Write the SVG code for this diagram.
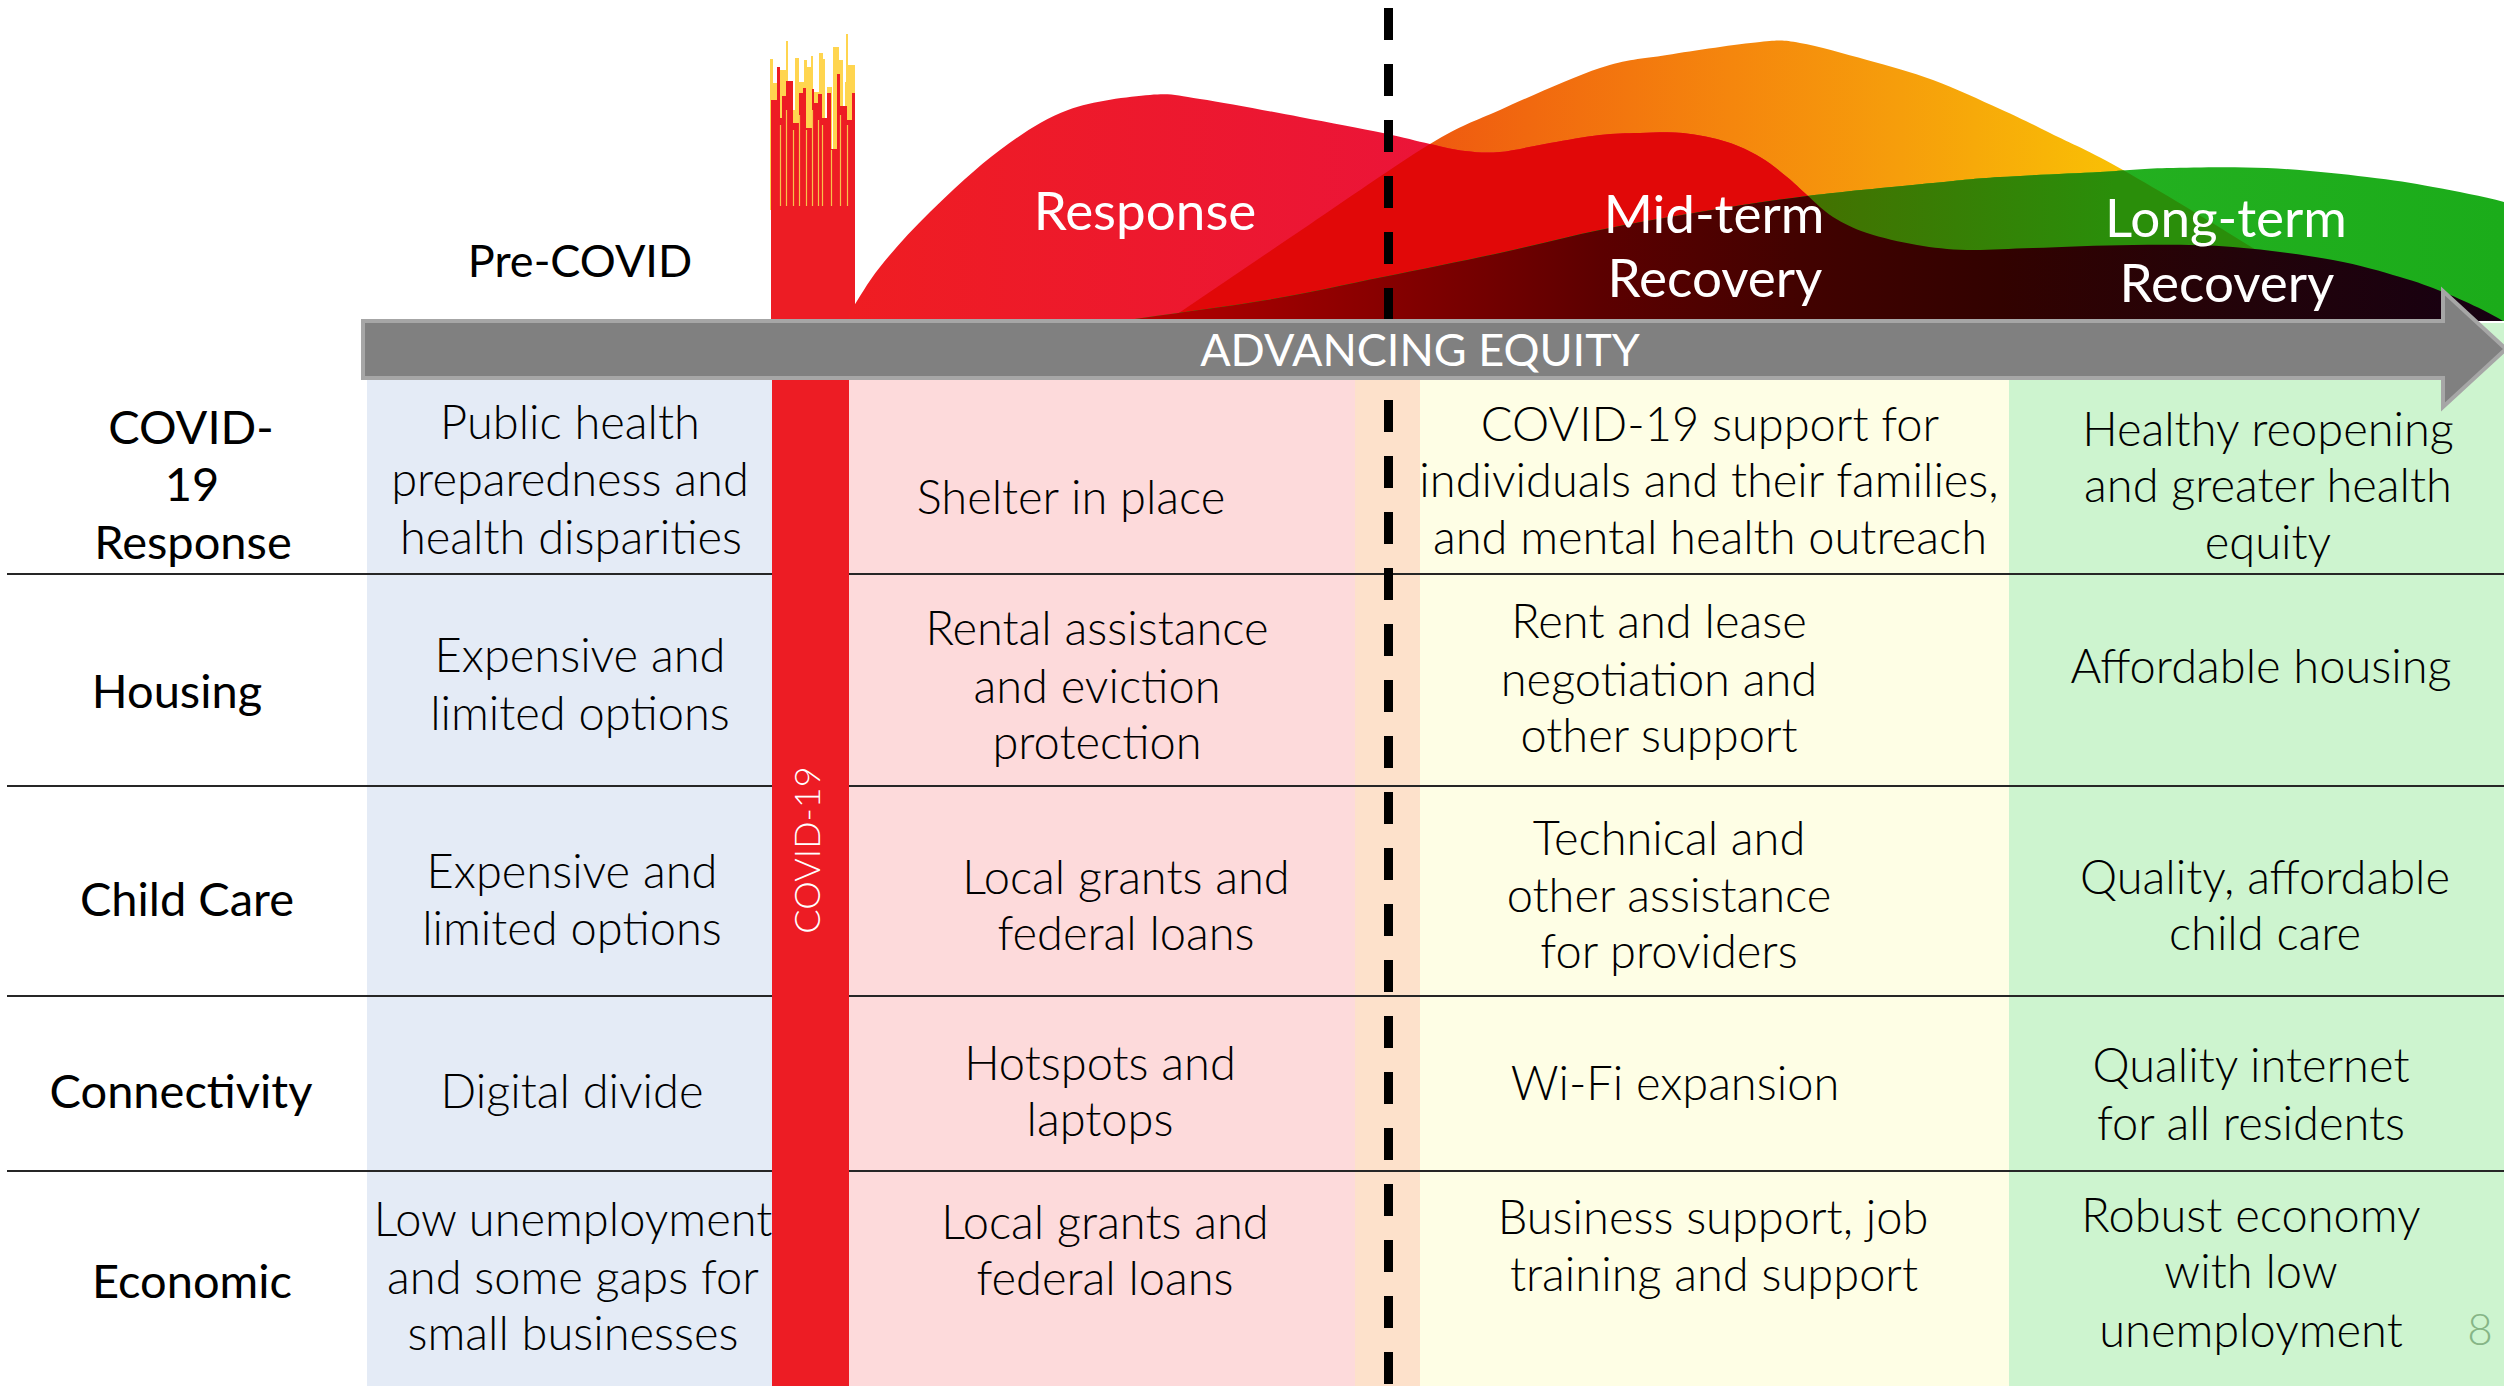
<svg xmlns="http://www.w3.org/2000/svg" width="2504" height="1386" viewBox="0 0 2504 1386">
<defs>
<style>
.lbl{font-family:Lato,"Liberation Sans",sans-serif;font-size:47px;fill:#000;text-anchor:middle}
.cell{font-family:Lato,"Liberation Sans",sans-serif;font-weight:300;font-size:47px;fill:#000;text-anchor:middle}
.hdr{font-family:Lato,"Liberation Sans",sans-serif;font-size:53px;fill:#fff;text-anchor:middle}
.row{stroke:#262626;stroke-width:2}
.y rect{fill:#FFD54F}
.r rect{fill:#ED1C24}
.thin line{stroke:#F9C04A;stroke-width:1.2}
</style>
<linearGradient id="gA" gradientUnits="userSpaceOnUse" x1="850" y1="0" x2="1450" y2="0">
<stop offset="0" stop-color="#EF1D22"/><stop offset="1" stop-color="#EB1439"/>
</linearGradient>
<linearGradient id="gB" gradientUnits="userSpaceOnUse" x1="1160" y1="0" x2="2370" y2="0">
<stop offset="0" stop-color="#EE4A12"/><stop offset="0.223" stop-color="#EF5A10"/><stop offset="0.471" stop-color="#F5860D"/><stop offset="0.612" stop-color="#F69E0B"/><stop offset="0.793" stop-color="#F9C005"/><stop offset="1" stop-color="#F9C005"/>
</linearGradient>
<linearGradient id="gO" gradientUnits="userSpaceOnUse" x1="1800" y1="0" x2="2370" y2="0">
<stop offset="0" stop-color="#447000"/><stop offset="0.55" stop-color="#2A8E0A"/><stop offset="1" stop-color="#2A8E0A"/>
</linearGradient>
<linearGradient id="gG" gradientUnits="userSpaceOnUse" x1="2100" y1="0" x2="2504" y2="0">
<stop offset="0" stop-color="#24B020"/><stop offset="1" stop-color="#1BAC1A"/>
</linearGradient>
<linearGradient id="gD" gradientUnits="userSpaceOnUse" x1="1120" y1="0" x2="2504" y2="0">
<stop offset="0" stop-color="#B80000"/><stop offset="0.19" stop-color="#870000"/><stop offset="0.347" stop-color="#5C0000"/><stop offset="0.491" stop-color="#420200"/><stop offset="0.636" stop-color="#320200"/><stop offset="0.817" stop-color="#22030A"/><stop offset="1" stop-color="#160012"/>
</linearGradient>
<clipPath id="top"><rect x="0" y="0" width="2504" height="321"/></clipPath>
<clipPath id="cB"><path d="M1167,321 C1211.3,291 1256.2,260.5 1300,231 C1343.8,201.5 1396.7,164.2 1430,144 C1463.3,123.8 1471.7,122.7 1500,110 C1528.3,97.3 1572.2,77.2 1600,68 C1627.8,58.8 1640.3,59.3 1667,55 C1693.7,50.7 1737.8,44 1760,42 C1782.2,40 1782.2,40 1800,43 C1817.8,46 1844.8,53.8 1867,60 C1889.2,66.2 1910.8,71.8 1933,80 C1955.2,88.2 1980.5,100.2 2000,109 C2019.5,117.8 2029.5,122.8 2050,133 C2070.5,143.2 2089.2,150.8 2123,170 C2156.8,189.2 2215.2,224.3 2253,248 C2290.8,271.7 2331.3,299.8 2350,312 C2368.7,324.2 2360,318 2365,321 L2365,330 L1167,330 Z"/></clipPath>
<clipPath id="cA"><path d="M848,321 L850,312 C860,297 866.7,283.7 880,267 C893.3,250.3 910,231.5 930,212 C950,192.5 977,167 1000,150 C1023,133 1043,119.2 1068,110 C1093,100.8 1128,96.8 1150,95 C1172,93.2 1175,95.3 1200,99 C1225,102.7 1269.5,111.3 1300,117 C1330.5,122.7 1361.3,128.5 1383,133 C1404.7,137.5 1416.3,141 1430,144 C1443.7,147 1453.3,149.7 1465,151 C1476.7,152.3 1485.8,153.3 1500,152 C1514.2,150.7 1533.3,145.8 1550,143 C1566.7,140.2 1585,136.7 1600,135 C1615,133.3 1626.2,133.3 1640,133 C1653.8,132.7 1668.5,131.5 1683,133 C1697.5,134.5 1714.2,138 1727,142 C1739.8,146 1750,151.2 1760,157 C1770,162.8 1779.2,170.7 1787,177 C1794.8,183.3 1799.3,188.3 1807,195 C1814.7,201.7 1823,210.7 1833,217 C1843,223.3 1853,228.3 1867,233 C1881,237.7 1900.3,242.2 1917,245 C1933.7,247.8 1947.7,249.5 1967,250 C1986.3,250.5 2005.3,248.8 2033,248 C2060.7,247.2 2099.7,245.2 2133,245 C2166.3,244.8 2199.7,244.5 2233,247 C2266.3,249.5 2305.2,255 2333,260 C2360.8,265 2381.7,271.7 2400,277 C2418.3,282.3 2429.2,286.5 2443,292 C2456.8,297.5 2471.8,304.5 2483,310 C2494.2,315.5 2501,320 2510,325 L2510,330 L848,330 Z"/></clipPath>
</defs>

<rect x="0" y="0" width="2504" height="1386" fill="#fff"/>

<g id="column-backgrounds">
<rect x="367" y="323" width="405" height="1063" fill="#E4EBF6"/>
<rect x="849" y="323" width="506" height="1063" fill="#FDDADB"/>
<rect x="1355" y="323" width="65" height="1063" fill="#FDE1CB"/>
<rect x="1420" y="323" width="589" height="1063" fill="#FEFEE5"/>
<rect x="2009" y="323" width="495" height="1063" fill="#CDF4CF"/>
</g>

<g id="row-lines">
<line class="row" x1="7" y1="574" x2="2504" y2="574"/>
<line class="row" x1="7" y1="786" x2="2504" y2="786"/>
<line class="row" x1="7" y1="996" x2="2504" y2="996"/>
<line class="row" x1="7" y1="1171" x2="2504" y2="1171"/>
</g>

<g id="covid-bar">
<g class="y">
<rect x="770" y="59" width="3" height="151"/><rect x="773" y="83" width="4" height="127"/><rect x="779" y="70" width="7" height="140"/><rect x="786" y="41" width="2" height="169"/><rect x="793" y="110" width="3" height="100"/><rect x="795" y="58" width="4" height="152"/><rect x="798" y="82" width="6" height="128"/><rect x="804" y="60" width="3" height="150"/><rect x="807" y="67" width="5" height="143"/><rect x="811" y="56" width="2" height="154"/><rect x="813" y="92" width="6" height="118"/><rect x="819" y="53" width="4" height="157"/><rect x="823" y="59" width="2" height="151"/><rect x="827" y="87" width="5" height="123"/><rect x="833" y="47" width="6" height="163"/><rect x="839" y="60" width="4" height="150"/><rect x="846" y="34" width="2" height="176"/><rect x="845" y="82" width="2" height="128"/><rect x="848" y="65" width="7" height="145"/>
</g>
<g class="r">
<rect x="771" y="100" width="6" height="110"/><rect x="777" y="67" width="3" height="143"/><rect x="780" y="118" width="2" height="92"/><rect x="782" y="96" width="4" height="114"/><rect x="786" y="81" width="7" height="129"/><rect x="793" y="123" width="6" height="87"/><rect x="799" y="93" width="4" height="117"/><rect x="803" y="88" width="3" height="122"/><rect x="806" y="128" width="6" height="82"/><rect x="812" y="89" width="2" height="121"/><rect x="814" y="103" width="4" height="107"/><rect x="818" y="94" width="4" height="116"/><rect x="822" y="118" width="5" height="92"/><rect x="827" y="93" width="4" height="117"/><rect x="831" y="149" width="6" height="61"/><rect x="837" y="74" width="3" height="136"/><rect x="840" y="106" width="7" height="104"/><rect x="847" y="120" width="5" height="90"/><rect x="852" y="93" width="3" height="117"/>
<rect x="771" y="206" width="84" height="118"/>
<rect x="772" y="320" width="77" height="1066"/>
</g>
<g class="thin">
<line x1="780.5" y1="125" x2="780.5" y2="206"/><line x1="786.5" y1="110" x2="786.5" y2="206"/><line x1="793.5" y1="130" x2="793.5" y2="206"/><line x1="799.5" y1="115" x2="799.5" y2="206"/><line x1="806.5" y1="130" x2="806.5" y2="206"/><line x1="812.5" y1="110" x2="812.5" y2="206"/><line x1="818.5" y1="120" x2="818.5" y2="206"/><line x1="822.5" y1="125" x2="822.5" y2="206"/><line x1="831.5" y1="150" x2="831.5" y2="206"/><line x1="840.5" y1="115" x2="840.5" y2="206"/><line x1="847.5" y1="125" x2="847.5" y2="206"/>
</g>
</g>

<g id="phase-curves" clip-path="url(#top)">
<path id="orange-wave" fill="url(#gB)" d="M1167,321 C1211.3,291 1256.2,260.5 1300,231 C1343.8,201.5 1396.7,164.2 1430,144 C1463.3,123.8 1471.7,122.7 1500,110 C1528.3,97.3 1572.2,77.2 1600,68 C1627.8,58.8 1640.3,59.3 1667,55 C1693.7,50.7 1737.8,44 1760,42 C1782.2,40 1782.2,40 1800,43 C1817.8,46 1844.8,53.8 1867,60 C1889.2,66.2 1910.8,71.8 1933,80 C1955.2,88.2 1980.5,100.2 2000,109 C2019.5,117.8 2029.5,122.8 2050,133 C2070.5,143.2 2089.2,150.8 2123,170 C2156.8,189.2 2215.2,224.3 2253,248 C2290.8,271.7 2331.3,299.8 2350,312 C2368.7,324.2 2360,318 2365,321 L2365,330 L1167,330 Z"/>
<path id="red-wave" fill="url(#gA)" d="M848,321 L850,312 C860,297 866.7,283.7 880,267 C893.3,250.3 910,231.5 930,212 C950,192.5 977,167 1000,150 C1023,133 1043,119.2 1068,110 C1093,100.8 1128,96.8 1150,95 C1172,93.2 1175,95.3 1200,99 C1225,102.7 1269.5,111.3 1300,117 C1330.5,122.7 1361.3,128.5 1383,133 C1404.7,137.5 1416.3,141 1430,144 C1443.7,147 1453.3,149.7 1465,151 C1476.7,152.3 1485.8,153.3 1500,152 C1514.2,150.7 1533.3,145.8 1550,143 C1566.7,140.2 1585,136.7 1600,135 C1615,133.3 1626.2,133.3 1640,133 C1653.8,132.7 1668.5,131.5 1683,133 C1697.5,134.5 1714.2,138 1727,142 C1739.8,146 1750,151.2 1760,157 C1770,162.8 1779.2,170.7 1787,177 C1794.8,183.3 1799.3,188.3 1807,195 C1814.7,201.7 1823,210.7 1833,217 C1843,223.3 1853,228.3 1867,233 C1881,237.7 1900.3,242.2 1917,245 C1933.7,247.8 1947.7,249.5 1967,250 C1986.3,250.5 2005.3,248.8 2033,248 C2060.7,247.2 2099.7,245.2 2133,245 C2166.3,244.8 2199.7,244.5 2233,247 C2266.3,249.5 2305.2,255 2333,260 C2360.8,265 2381.7,271.7 2400,277 C2418.3,282.3 2429.2,286.5 2443,292 C2456.8,297.5 2471.8,304.5 2483,310 C2494.2,315.5 2501,320 2510,325 L2510,330 L848,330 Z"/>
<path fill="#E10808" clip-path="url(#cB)" d="M848,321 L850,312 C860,297 866.7,283.7 880,267 C893.3,250.3 910,231.5 930,212 C950,192.5 977,167 1000,150 C1023,133 1043,119.2 1068,110 C1093,100.8 1128,96.8 1150,95 C1172,93.2 1175,95.3 1200,99 C1225,102.7 1269.5,111.3 1300,117 C1330.5,122.7 1361.3,128.5 1383,133 C1404.7,137.5 1416.3,141 1430,144 C1443.7,147 1453.3,149.7 1465,151 C1476.7,152.3 1485.8,153.3 1500,152 C1514.2,150.7 1533.3,145.8 1550,143 C1566.7,140.2 1585,136.7 1600,135 C1615,133.3 1626.2,133.3 1640,133 C1653.8,132.7 1668.5,131.5 1683,133 C1697.5,134.5 1714.2,138 1727,142 C1739.8,146 1750,151.2 1760,157 C1770,162.8 1779.2,170.7 1787,177 C1794.8,183.3 1799.3,188.3 1807,195 C1814.7,201.7 1823,210.7 1833,217 C1843,223.3 1853,228.3 1867,233 C1881,237.7 1900.3,242.2 1917,245 C1933.7,247.8 1947.7,249.5 1967,250 C1986.3,250.5 2005.3,248.8 2033,248 C2060.7,247.2 2099.7,245.2 2133,245 C2166.3,244.8 2199.7,244.5 2233,247 C2266.3,249.5 2305.2,255 2333,260 C2360.8,265 2381.7,271.7 2400,277 C2418.3,282.3 2429.2,286.5 2443,292 C2456.8,297.5 2471.8,304.5 2483,310 C2494.2,315.5 2501,320 2510,325 L2510,330 L848,330 Z"/>
<path id="green-wave" fill="url(#gG)" d="M1120,321 C1169,314 1223.2,307.3 1267,300 C1310.8,292.7 1344.2,284.8 1383,277 C1421.8,269.2 1463.8,260.8 1500,253 C1536.2,245.2 1566.7,236.8 1600,230 C1633.3,223.2 1665.5,217.7 1700,212 C1734.5,206.3 1768.2,200.8 1807,196 C1845.8,191.2 1900.8,186.2 1933,183 C1965.2,179.8 1972.2,178.8 2000,177 C2027.8,175.2 2072.2,173.5 2100,172 C2127.8,170.5 2139.2,168.7 2167,168 C2194.8,167.3 2233.7,166.5 2267,168 C2300.3,169.5 2339.3,173.8 2367,177 C2394.7,180.2 2410.2,182.8 2433,187 C2455.8,191.2 2482.8,196.2 2504,202 C2525.2,207.8 2541.3,215.3 2560,222 L2560,330 L1120,330 Z"/>
<path fill="url(#gO)" clip-path="url(#cB)" d="M1120,321 C1169,314 1223.2,307.3 1267,300 C1310.8,292.7 1344.2,284.8 1383,277 C1421.8,269.2 1463.8,260.8 1500,253 C1536.2,245.2 1566.7,236.8 1600,230 C1633.3,223.2 1665.5,217.7 1700,212 C1734.5,206.3 1768.2,200.8 1807,196 C1845.8,191.2 1900.8,186.2 1933,183 C1965.2,179.8 1972.2,178.8 2000,177 C2027.8,175.2 2072.2,173.5 2100,172 C2127.8,170.5 2139.2,168.7 2167,168 C2194.8,167.3 2233.7,166.5 2267,168 C2300.3,169.5 2339.3,173.8 2367,177 C2394.7,180.2 2410.2,182.8 2433,187 C2455.8,191.2 2482.8,196.2 2504,202 C2525.2,207.8 2541.3,215.3 2560,222 L2560,330 L1120,330 Z"/>
<path fill="url(#gD)" clip-path="url(#cA)" d="M1120,321 C1169,314 1223.2,307.3 1267,300 C1310.8,292.7 1344.2,284.8 1383,277 C1421.8,269.2 1463.8,260.8 1500,253 C1536.2,245.2 1566.7,236.8 1600,230 C1633.3,223.2 1665.5,217.7 1700,212 C1734.5,206.3 1768.2,200.8 1807,196 C1845.8,191.2 1900.8,186.2 1933,183 C1965.2,179.8 1972.2,178.8 2000,177 C2027.8,175.2 2072.2,173.5 2100,172 C2127.8,170.5 2139.2,168.7 2167,168 C2194.8,167.3 2233.7,166.5 2267,168 C2300.3,169.5 2339.3,173.8 2367,177 C2394.7,180.2 2410.2,182.8 2433,187 C2455.8,191.2 2482.8,196.2 2504,202 C2525.2,207.8 2541.3,215.3 2560,222 L2560,330 L1120,330 Z"/>
</g>

<g id="divider">
<line x1="1388.5" y1="8" x2="1388.5" y2="1386" stroke="#000" stroke-width="9" stroke-dasharray="32 24"/>
</g>

<g id="advancing-equity-arrow">
<polygon points="363,321 2443,321 2443,291 2506,349 2443,407 2443,378 363,378" fill="#808080" stroke="#A6A6A6" stroke-width="4"/>
<text x="1420" y="366" font-family="Lato, 'Liberation Sans', sans-serif" font-size="45" fill="#fff" text-anchor="middle">ADVANCING EQUITY</text>
</g>

<g id="phase-labels">
<text x="580" y="277" font-family="Lato, 'Liberation Sans', sans-serif" font-size="45" fill="#000" text-anchor="middle">Pre-COVID</text>
<text class="hdr" x="1145" y="230">Response</text>
<text class="hdr" x="1714" y="233">Mid-term</text>
<text class="hdr" x="1715" y="297">Recovery</text>
<text class="hdr" x="2226" y="237">Long-term</text>
<text class="hdr" x="2227" y="302">Recovery</text>
<text x="820" y="850" transform="rotate(-90 820 850)" font-family="Lato, 'Liberation Sans', sans-serif" font-weight="300" font-size="36" fill="#fff" text-anchor="middle">COVID-19</text>
</g>

<g id="row-covid-response">
<text class="lbl" x="191" y="444">COVID-</text>
<text class="lbl" x="192" y="501">19</text>
<text class="lbl" x="193" y="559">Response</text>
<text class="cell" x="570" y="439">Public health</text>
<text class="cell" x="570" y="496">preparedness and</text>
<text class="cell" x="571" y="554">health disparities</text>
<text class="cell" x="1071" y="514">Shelter in place</text>
<text class="cell" x="1710" y="441">COVID-19 support for</text>
<text class="cell" x="1709" y="497">individuals and their families,</text>
<text class="cell" x="1710" y="554">and mental health outreach</text>
<text class="cell" x="2268" y="446">Healthy reopening</text>
<text class="cell" x="2268" y="502">and greater health</text>
<text class="cell" x="2268" y="559">equity</text>
</g>

<g id="row-housing">
<text class="lbl" x="177" y="708">Housing</text>
<text class="cell" x="580" y="672">Expensive and</text>
<text class="cell" x="580" y="730">limited options</text>
<text class="cell" x="1097" y="645">Rental assistance</text>
<text class="cell" x="1097" y="703">and eviction</text>
<text class="cell" x="1097" y="759">protection</text>
<text class="cell" x="1659" y="638">Rent and lease</text>
<text class="cell" x="1659" y="696">negotiation and</text>
<text class="cell" x="1659" y="752">other support</text>
<text class="cell" x="2261" y="683">Affordable housing</text>
</g>

<g id="row-child-care">
<text class="lbl" x="187" y="916">Child Care</text>
<text class="cell" x="572" y="888">Expensive and</text>
<text class="cell" x="572" y="945">limited options</text>
<text class="cell" x="1126" y="894">Local grants and</text>
<text class="cell" x="1126" y="950">federal loans</text>
<text class="cell" x="1669" y="855">Technical and</text>
<text class="cell" x="1669" y="912">other assistance</text>
<text class="cell" x="1669" y="968">for providers</text>
<text class="cell" x="2265" y="894">Quality, affordable</text>
<text class="cell" x="2265" y="950">child care</text>
</g>

<g id="row-connectivity">
<text class="lbl" x="181" y="1108">Connectivity</text>
<text class="cell" x="572" y="1108">Digital divide</text>
<text class="cell" x="1100" y="1080">Hotspots and</text>
<text class="cell" x="1100" y="1136">laptops</text>
<text class="cell" x="1675" y="1100">Wi-Fi expansion</text>
<text class="cell" x="2251" y="1082">Quality internet</text>
<text class="cell" x="2251" y="1140">for all residents</text>
</g>

<g id="row-economic">
<text class="lbl" x="192" y="1298">Economic</text>
<text class="cell" x="573" y="1236">Low unemployment</text>
<text class="cell" x="573" y="1294">and some gaps for</text>
<text class="cell" x="573" y="1350">small businesses</text>
<text class="cell" x="1105" y="1239">Local grants and</text>
<text class="cell" x="1105" y="1295">federal loans</text>
<text class="cell" x="1713" y="1234">Business support, job</text>
<text class="cell" x="1714" y="1291">training and support</text>
<text class="cell" x="2251" y="1232">Robust economy</text>
<text class="cell" x="2251" y="1288">with low</text>
<text class="cell" x="2251" y="1347">unemployment</text>
</g>

<text x="2480" y="1345" font-family="Lato, 'Liberation Sans', sans-serif" font-weight="300" font-size="44" fill="#86B586" text-anchor="middle">8</text>
</svg>
